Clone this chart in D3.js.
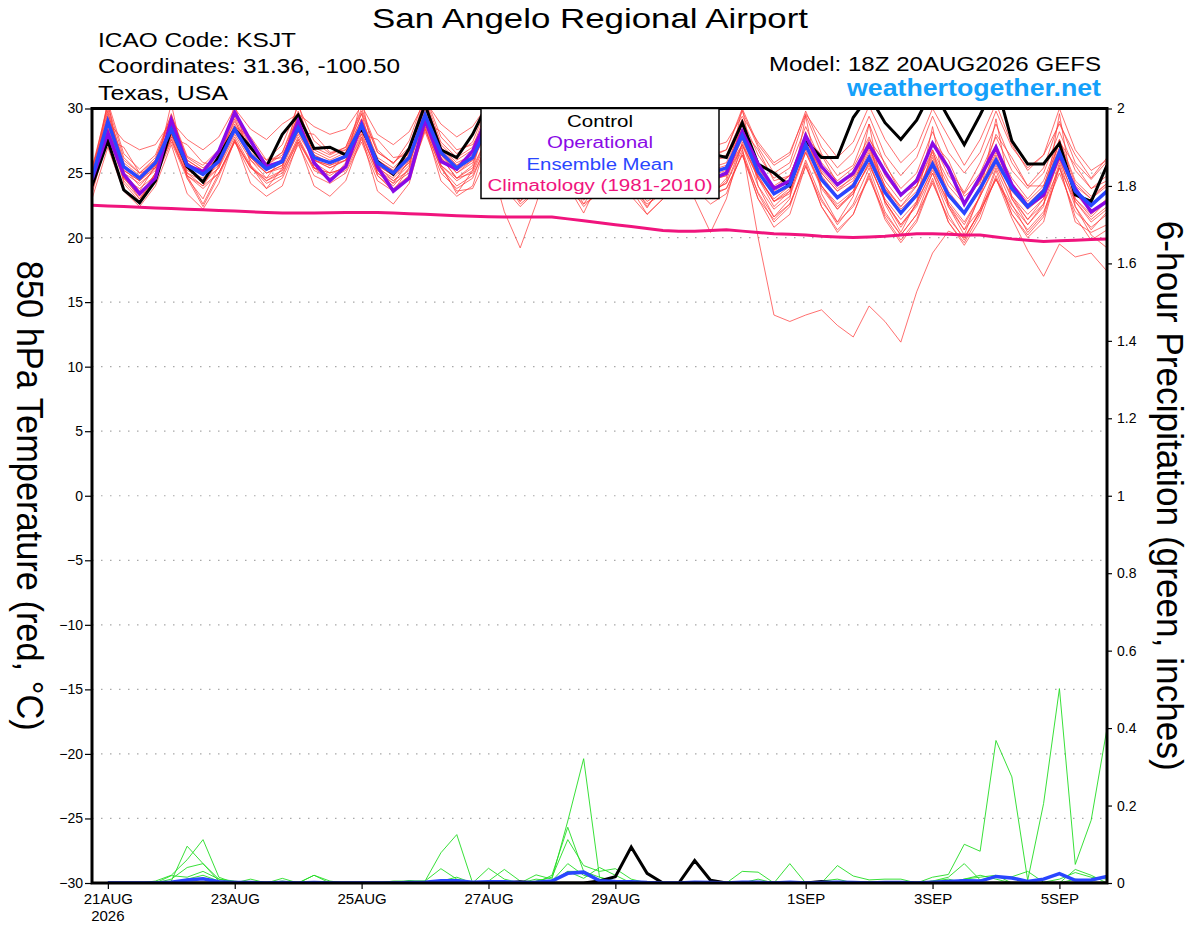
<!DOCTYPE html>
<html lang="en">
<head>
<meta charset="UTF-8">
<title>San Angelo Regional Airport - GEFS</title>
<script src="https://d3js.org/d3.v7.min.js"></script>
<style>
  body { margin: 0; background: #fff; }
  svg { display: block; font-family: "Liberation Sans", Arial, Helvetica, sans-serif; }
</style>
</head>
<body>
<svg id="chart" width="1200" height="927"></svg>
<script>
// 6-hourly steps from 18Z 20AUG2026 to 18Z 5SEP2026
const runStart = Date.UTC(2026, 7, 20, 18);
const stepHours = 6;
const nSteps = 65;

const tickDates = ["2026-08-21", "2026-08-23", "2026-08-25", "2026-08-27", "2026-08-29", "2026-09-01", "2026-09-03", "2026-09-05"];
const tickLabels = ["21AUG", "23AUG", "25AUG", "27AUG", "29AUG", "1SEP", "3SEP", "5SEP"];
const tempTicks = [-30, -25, -20, -15, -10, -5, 0, 5, 10, 15, 20, 25, 30];
const precipTicks = [0, 0.2, 0.4, 0.6, 0.8, 1, 1.2, 1.4, 1.6, 1.8, 2];

// 850 hPa temperature (C)
const control = [24.0,
  27.5, 23.7, 22.7, 24.4,  28.4, 25.5, 24.3, 26.3,  28.4, 27.0, 25.5, 28.0,  29.5, 26.9, 27.0, 26.4,
  28.5, 25.9, 24.9, 26.9,  30.3, 26.8, 26.2, 28.0,  30.5, 27.5, 25.8, 26.5,  29.5, 27.0, 25.5, 26.0,
  29.0, 27.0, 25.5, 26.0,  30.5, 27.5, 26.5, 26.2,  28.9, 25.7, 25.0, 24.0,  27.5, 26.2, 26.2, 29.3,
  31.0, 28.9, 27.6, 29.1,  31.5, 29.3, 27.2, 29.5,  32.0, 27.5, 25.7, 25.7,  27.3, 23.3, 22.8, 25.6];
const operational = [24.5,
  28.1, 24.9, 23.4, 24.6,  29.1, 25.6, 25.1, 26.7,  29.7, 27.5, 25.5, 25.9,  29.0, 25.8, 24.4, 25.5,
  28.8, 25.5, 23.6, 24.6,  29.1, 25.9, 25.3, 26.7,  29.5, 26.5, 25.0, 25.8,  29.0, 26.3, 24.5, 25.4,
  28.5, 26.0, 24.2, 25.0,  28.8, 26.0, 24.5, 25.0,  28.2, 25.7, 23.8, 24.4,  27.9, 25.5, 24.1, 25.0,
  27.2, 25.1, 23.3, 24.4,  27.3, 25.4, 22.6, 24.7,  27.0, 24.1, 22.4, 23.3,  26.4, 23.8, 22.0, 22.8];
const ensMean = [24.6,
  29.0, 25.5, 24.6, 25.8,  28.4, 25.6, 24.9, 25.9,  28.4, 26.4, 25.3, 25.9,  28.5, 26.2, 25.8, 26.3,
  28.7, 25.8, 25.0, 26.2,  29.5, 26.6, 25.4, 26.2,  28.8, 26.0, 24.8, 25.6,  28.3, 26.0, 24.6, 25.4,
  28.0, 25.8, 24.4, 25.0,  28.2, 26.0, 25.0, 25.4,  27.9, 25.1, 23.4, 24.1,  27.2, 24.5, 23.1, 24.0,
  26.2, 23.5, 21.9, 23.3,  25.7, 23.3, 21.9, 23.8,  26.0, 23.8, 22.4, 23.6,  26.6, 23.6, 22.5, 23.6];
const climatology = [22.5,
  22.45, 22.4, 22.35, 22.3,  22.25, 22.2, 22.15, 22.1,  22.05, 22.0, 21.95, 21.9,  21.9, 21.9, 21.92, 21.95,
  21.95, 21.95, 21.9, 21.85,  21.8, 21.75, 21.7, 21.65,  21.62, 21.6, 21.6, 21.6,  21.6, 21.45, 21.3, 21.15,
  21.0, 20.85, 20.7, 20.55,  20.5, 20.5, 20.55, 20.6,  20.5, 20.4, 20.3, 20.25,  20.2, 20.1, 20.05, 20.0,
  20.05, 20.1, 20.2, 20.3,  20.3, 20.25, 20.2, 20.2,  20.05, 19.9, 19.8, 19.7,  19.75, 19.8, 19.85, 19.9];

// ensemble members (thin red)
const mem01 = [25.0,
  30.5, 26.5, 25.3, 26.4,  29.5, 26.3, 25.6, 26.8,  29.8, 27.0, 26.0, 27.2,  30.2, 27.5, 26.5, 27.0,
  30.0, 26.8, 25.7, 27.5,  31.0, 27.8, 26.5, 27.4,  30.5, 27.2, 26.0, 27.0,  29.8, 27.5, 25.8, 26.8,
  30.0, 27.0, 25.6, 26.5,  30.2, 27.4, 26.2, 26.8,  29.8, 27.0, 25.0, 25.8,  29.5, 26.5, 24.8, 25.6,
  28.8, 25.6, 23.8, 25.0,  28.2, 25.4, 23.5, 25.8,  28.8, 25.8, 24.0, 25.4,  29.0, 25.8, 24.5, 25.9];
const mem02 = [24.2,
  28.0, 24.8, 23.0, 25.0,  27.6, 24.8, 22.6, 25.0,  27.5, 25.5, 24.2, 24.8,  27.6, 25.2, 24.6, 25.2,
  27.6, 24.8, 23.8, 24.8,  28.4, 25.4, 24.0, 24.8,  27.4, 24.6, 22.8, 24.0,  26.8, 24.5, 22.9, 24.0,
  26.5, 24.0, 22.6, 23.4,  26.8, 24.4, 23.2, 23.8,  26.4, 23.5, 21.6, 22.6,  25.5, 22.8, 21.2, 22.4,
  24.6, 21.8, 20.2, 21.8,  24.2, 21.5, 20.0, 22.0,  24.5, 22.2, 20.6, 22.0,  25.0, 22.0, 20.8, 21.8];
const mem03 = [24.8,
  29.8, 25.0, 23.6, 25.6,  29.0, 25.0, 24.0, 26.0,  29.2, 26.0, 24.6, 26.2,  29.4, 25.8, 25.0, 26.6,
  29.6, 25.2, 24.2, 26.0,  30.2, 26.2, 24.6, 25.6,  29.6, 25.4, 23.8, 25.2,  29.0, 25.6, 24.0, 25.0,
  28.8, 25.2, 23.5, 24.6,  29.0, 25.8, 24.4, 25.0,  28.8, 24.6, 22.4, 23.6,  28.2, 24.0, 22.2, 23.6,
  27.4, 22.8, 20.8, 22.6,  26.8, 22.6, 20.6, 23.2,  27.2, 23.2, 21.4, 23.0,  27.6, 23.0, 21.6, 22.8];
const mem04 = [24.4,
  28.6, 25.2, 24.4, 25.4,  28.0, 25.2, 24.6, 25.6,  28.0, 26.0, 25.0, 25.4,  28.2, 26.0, 25.4, 26.0,
  28.4, 25.4, 24.6, 25.8,  29.0, 26.2, 25.0, 26.0,  28.4, 25.6, 24.4, 25.4,  27.8, 25.5, 24.2, 25.0,
  27.5, 25.2, 23.6, 24.4,  27.6, 25.5, 24.5, 24.8,  27.0, 20.0, 14.0, 13.5,  14.0, 14.4, 13.2, 12.3,
  14.7, 13.5, 11.9, 15.8,  18.8, 20.5, 20.0, 22.0,  24.5, 22.5, 21.0, 22.6,  25.4, 22.8, 21.4, 22.4];
const mem05 = [24.0,
  28.8, 24.6, 23.2, 25.0,  28.6, 25.4, 24.2, 25.4,  28.6, 26.2, 25.0, 25.6,  28.8, 26.0, 25.4, 26.0,
  29.0, 25.5, 24.4, 25.6,  29.6, 26.4, 25.0, 25.8,  28.6, 25.6, 24.2, 25.0,  28.0, 25.8, 24.2, 25.2,
  27.6, 25.4, 23.8, 24.6,  28.0, 25.6, 24.4, 25.0,  27.6, 24.8, 22.8, 23.4,  26.8, 24.0, 22.4, 23.4,
  25.8, 22.8, 21.0, 22.4,  25.0, 22.4, 20.6, 22.2,  24.6, 21.5, 19.0, 17.0,  19.5, 18.5, 18.8, 17.4];
const mem06 = [23.6,
  28.2, 25.0, 24.2, 25.2,  28.0, 25.0, 24.4, 25.4,  27.8, 25.6, 24.4, 25.0,  27.4, 25.4, 25.0, 25.4,
  28.0, 25.0, 24.2, 25.0,  28.4, 25.4, 23.6, 23.8,  26.4, 22.0, 19.2, 22.6,  26.5, 24.5, 23.0, 24.0,
  26.6, 24.4, 23.0, 23.6,  27.0, 24.6, 23.6, 24.2,  27.2, 24.8, 22.8, 23.8,  27.0, 24.6, 23.0, 24.0,
  26.4, 23.8, 22.4, 23.6,  26.0, 23.4, 22.0, 23.8,  26.2, 23.6, 22.2, 23.2,  26.4, 23.4, 22.0, 23.0];
const mem07 = [24.6,
  29.4, 25.8, 24.8, 26.0,  28.8, 26.0, 25.2, 26.2,  28.8, 26.6, 25.6, 26.4,  29.0, 26.6, 26.0, 26.6,
  29.2, 26.2, 25.4, 26.6,  30.0, 27.0, 25.8, 26.4,  29.2, 26.2, 24.8, 25.4,  28.4, 24.0, 21.9, 24.5,
  28.0, 24.0, 22.3, 24.2,  27.8, 23.0, 20.4, 23.0,  27.4, 24.6, 23.0, 24.0,  27.6, 25.0, 23.6, 24.4,
  26.8, 24.0, 22.2, 23.4,  26.4, 23.6, 22.0, 24.0,  26.6, 24.2, 22.6, 23.8,  27.0, 24.0, 23.0, 24.0];
const mem08 = [24.8,
  29.6, 26.0, 25.0, 26.2,  29.2, 26.2, 25.4, 26.4,  29.0, 26.8, 25.8, 26.6,  29.4, 26.8, 26.2, 26.8,
  29.6, 26.6, 25.8, 26.8,  30.4, 27.2, 26.0, 26.8,  29.8, 26.8, 25.6, 26.4,  29.4, 26.8, 25.4, 26.2,
  29.2, 26.6, 25.2, 26.0,  29.4, 27.0, 26.0, 26.4,  29.2, 26.4, 24.6, 25.4,  28.6, 25.8, 24.4, 25.4,
  27.8, 24.8, 23.2, 24.6,  27.4, 24.8, 23.4, 25.0,  27.8, 25.2, 23.8, 25.0,  28.2, 25.2, 23.8, 24.8];
const mem09 = [24.2,
  28.4, 24.6, 23.4, 24.8,  27.8, 24.8, 23.8, 25.0,  27.6, 25.4, 24.4, 25.2,  27.8, 25.4, 24.8, 25.6,
  28.2, 25.0, 24.0, 25.4,  28.8, 25.6, 24.4, 25.2,  28.0, 25.0, 23.6, 24.6,  27.4, 24.8, 23.4, 24.4,
  27.2, 24.6, 23.0, 24.0,  27.4, 24.8, 23.6, 24.2,  26.8, 23.4, 21.2, 22.4,  26.0, 23.0, 21.0, 22.6,
  25.4, 22.0, 20.2, 21.8,  25.0, 21.8, 19.8, 22.2,  25.4, 22.6, 20.4, 21.8,  25.8, 22.4, 20.2, 19.2];
const mem10 = [25.4,
  30.2, 26.2, 25.0, 26.0,  29.6, 25.8, 25.0, 26.2,  29.4, 26.4, 25.2, 26.0,  29.6, 26.4, 25.8, 26.4,
  29.2, 26.0, 25.2, 26.6,  30.6, 27.0, 25.6, 26.2,  29.4, 26.4, 25.2, 26.0,  28.8, 26.4, 25.0, 25.8,
  28.6, 26.2, 24.8, 25.4,  28.8, 26.4, 25.4, 25.8,  28.4, 25.4, 23.8, 24.8,  27.8, 25.0, 23.6, 24.8,
  27.0, 24.0, 22.4, 24.0,  26.6, 24.0, 22.6, 24.4,  26.8, 24.2, 22.8, 24.0,  27.4, 24.2, 23.0, 24.2];
const mem11 = [24.0,
  28.4, 25.2, 24.4, 25.6,  28.2, 25.6, 24.8, 25.8,  28.2, 26.2, 25.2, 25.8,  28.0, 26.0, 25.6, 26.2,
  28.4, 25.6, 24.8, 26.0,  29.2, 26.4, 25.2, 26.0,  28.6, 25.8, 24.6, 25.4,  28.2, 25.8, 24.4, 25.2,
  27.8, 25.6, 24.2, 24.8,  28.0, 25.8, 24.8, 25.2,  27.2, 24.6, 22.8, 23.6,  26.6, 24.0, 22.6, 23.6,
  25.6, 23.0, 21.4, 22.8,  25.2, 22.8, 21.2, 23.2,  25.6, 23.2, 21.8, 23.0,  26.0, 23.0, 21.8, 22.8];
const mem12 = [25.2,
  30.0, 25.6, 24.4, 25.8,  29.4, 26.0, 25.2, 26.6,  29.6, 26.8, 25.6, 26.6,  29.8, 27.0, 26.4, 27.0,
  29.8, 26.6, 25.8, 27.0,  30.8, 27.4, 26.2, 27.0,  30.2, 27.0, 25.8, 26.6,  29.6, 27.2, 26.0, 26.6,
  29.6, 27.0, 25.8, 26.4,  29.8, 27.4, 26.4, 26.8,  30.0, 27.2, 25.6, 26.4,  29.8, 27.0, 25.4, 26.6,
  29.4, 26.4, 24.8, 26.2,  29.4, 26.6, 25.0, 26.6,  29.8, 27.0, 25.4, 26.4,  30.0, 26.8, 25.2, 26.0];
const mem13 = [23.8,
  28.0, 24.4, 23.0, 24.6,  27.4, 24.6, 22.4, 24.8,  27.4, 25.0, 23.8, 24.6,  27.2, 24.8, 24.2, 25.0,
  27.4, 24.4, 23.6, 24.8,  28.2, 25.0, 23.8, 24.6,  27.6, 24.8, 23.4, 24.4,  27.2, 24.6, 23.2, 24.2,
  27.0, 24.4, 22.8, 23.6,  27.2, 24.6, 23.4, 23.8,  26.4, 23.0, 20.8, 21.8,  25.6, 22.4, 20.4, 21.8,
  24.8, 21.4, 19.6, 21.2,  24.4, 21.2, 19.4, 21.4,  24.8, 21.8, 20.2, 21.6,  25.4, 21.6, 19.8, 20.6];
const mem14 = [25.0,
  29.2, 25.4, 24.0, 25.4,  28.8, 25.8, 25.0, 26.0,  28.6, 26.4, 25.4, 26.0,  28.8, 26.4, 25.8, 26.4,
  28.8, 26.0, 25.2, 26.4,  29.8, 26.8, 25.6, 26.6,  29.0, 26.4, 25.2, 25.8,  28.6, 26.2, 24.8, 25.6,
  28.2, 26.0, 24.6, 25.2,  28.6, 26.2, 25.2, 25.6,  28.2, 25.4, 23.6, 24.4,  27.4, 24.8, 23.2, 24.2,
  26.6, 23.8, 22.0, 23.4,  26.2, 23.4, 22.0, 23.8,  26.4, 23.8, 22.4, 23.6,  26.8, 23.6, 22.4, 23.6];
const mem15 = [24.6,
  29.0, 25.6, 24.6, 25.6,  28.6, 25.8, 24.8, 25.8,  28.4, 26.2, 25.0, 25.6,  28.4, 26.0, 25.6, 26.0,
  28.6, 25.6, 24.8, 25.8,  29.4, 26.2, 24.6, 25.0,  27.8, 24.6, 22.6, 23.6,  27.0, 24.2, 22.4, 23.6,
  26.8, 23.8, 21.8, 23.0,  27.4, 24.6, 23.2, 24.4,  28.0, 25.6, 24.0, 24.8,  27.8, 25.2, 23.8, 24.6,
  27.0, 24.4, 22.8, 24.0,  26.8, 24.4, 22.8, 24.4,  27.0, 24.6, 23.0, 24.4,  27.6, 24.4, 23.2, 24.2];
const mem16 = [23.4,
  27.8, 24.6, 23.8, 24.8,  27.6, 24.8, 24.0, 25.0,  27.4, 25.4, 24.6, 25.2,  27.6, 25.4, 25.0, 25.4,
  27.8, 25.2, 24.4, 25.2,  28.6, 25.6, 24.6, 25.4,  28.0, 25.2, 24.0, 24.8,  27.6, 25.2, 24.0, 24.8,
  27.4, 25.0, 23.8, 24.4,  27.6, 25.2, 24.4, 24.8,  27.2, 24.0, 22.2, 23.2,  26.6, 23.8, 22.2, 23.4,
  25.8, 22.8, 21.0, 22.6,  25.4, 22.6, 21.0, 23.2,  25.8, 23.0, 21.4, 22.6,  26.2, 22.8, 21.2, 22.2];
const mem17 = [25.5,
  29.0, 27.5, 26.8, 27.2,  29.0, 27.6, 26.8, 27.8,  30.0, 28.4, 27.6, 28.8,  29.6, 28.6, 28.0, 28.4,
  30.2, 28.0, 27.2, 28.2,  30.6, 28.8, 27.8, 28.6,  30.4, 28.0, 27.0, 27.6,  29.6, 27.8, 26.6, 27.2,
  29.4, 27.6, 26.4, 27.0,  29.8, 28.2, 27.0, 27.4,  29.4, 27.4, 25.8, 26.6,  29.6, 27.8, 26.2, 27.4,
  30.2, 27.6, 25.8, 27.0,  30.0, 27.8, 25.6, 27.6,  30.4, 27.2, 25.2, 26.4,  28.8, 26.4, 24.6, 26.2];
const mem18 = [23.0,
  27.0, 23.6, 22.4, 24.0,  27.2, 23.4, 22.2, 24.2,  27.6, 24.2, 23.2, 24.0,  27.4, 24.0, 23.2, 24.4,
  27.8, 23.6, 22.6, 24.2,  28.6, 24.4, 23.2, 24.0,  27.8, 23.8, 22.4, 23.6,  27.0, 23.8, 22.6, 23.4,
  26.8, 23.2, 21.8, 23.0,  27.0, 23.8, 22.6, 23.4,  26.6, 23.0, 21.4, 22.6,  25.8, 22.4, 20.6, 21.8,
  25.0, 21.6, 19.8, 21.4,  24.6, 21.2, 19.6, 21.8,  25.2, 21.8, 20.0, 21.2,  25.6, 21.2, 20.4, 21.0];
const mem19 = [24.8,
  27.6, 27.0, 25.0, 25.4,  27.8, 27.2, 25.8, 25.6,  28.6, 27.8, 26.0, 26.2,  28.2, 28.0, 26.6, 26.8,
  28.0, 27.6, 26.2, 26.4,  29.0, 28.2, 26.8, 27.2,  29.2, 27.4, 25.8, 26.0,  28.4, 27.6, 25.6, 26.0,
  28.2, 27.2, 25.4, 25.8,  28.6, 27.8, 26.0, 26.2,  28.4, 26.8, 24.4, 24.8,  27.8, 26.4, 24.2, 24.8,
  27.6, 25.8, 23.4, 24.0,  27.4, 26.0, 23.2, 24.2,  28.0, 26.2, 24.0, 24.0,  27.4, 25.6, 23.8, 24.4];
const mem20 = [24.0,
  30.6, 24.2, 22.8, 25.0,  30.4, 24.6, 23.0, 25.6,  30.4, 25.6, 23.8, 25.4,  30.6, 25.4, 24.4, 25.8,
  30.8, 24.8, 23.6, 25.4,  31.0, 25.6, 23.4, 25.2,  30.2, 24.8, 22.8, 24.6,  29.8, 24.8, 22.6, 24.4,
  29.6, 24.4, 22.4, 24.0,  30.0, 25.0, 23.2, 24.6,  30.0, 24.0, 21.6, 23.0,  29.4, 23.4, 21.2, 23.2,
  28.8, 22.6, 20.4, 22.8,  28.6, 22.4, 20.2, 23.4,  29.2, 23.0, 21.0, 22.4,  29.6, 22.4, 20.6, 22.0];
const members = [mem01, mem02, mem03, mem04, mem05, mem06, mem07, mem08, mem09, mem10,
                 mem11, mem12, mem13, mem14, mem15, mem16, mem17, mem18, mem19, mem20];

// 6-hour precipitation (inches); first step has no accumulation
const pcpControl = [null,
  0, 0, 0, 0,  0, 0, 0, 0,  0, 0, 0, 0,  0, 0, 0, 0,
  0, 0, 0, 0,  0, 0, 0, 0,  0, 0, 0.003, 0,  0, 0, 0, 0.005,
  0.016, 0.093, 0.025, 0,  0, 0.058, 0.007, 0,  0, 0, 0, 0,  0, 0.004, 0, 0,
  0, 0, 0, 0,  0, 0, 0, 0,  0, 0, 0, 0,  0, 0, 0, 0];
const pcpMean = [null,
  0, 0, 0, 0,  0.002, 0.008, 0.011, 0.003,  0.001, 0.001, 0, 0.001,  0, 0.001, 0, 0,
  0, 0, 0, 0.001,  0.002, 0.006, 0.006, 0.002,  0.003, 0.003, 0.001, 0.002,  0.005, 0.025, 0.028, 0.006,
  0.004, 0.003, 0.001, 0,  0, 0.002, 0.001, 0,  0.002, 0.002, 0, 0.002,  0, 0.001, 0.002, 0.001,
  0, 0.001, 0.001, 0,  0.002, 0.004, 0.006, 0.005,  0.017, 0.013, 0.004, 0.01,  0.024, 0.007, 0.008, 0.017];
const pcp01 = [null,
  0, 0, 0, 0.005,  0.02, 0.06, 0.112, 0.015,  0, 0.01, 0, 0.012,  0, 0.02, 0, 0,
  0, 0, 0, 0.005,  0.005, 0.078, 0.125, 0,  0, 0, 0, 0.021,  0.01, 0.16, 0.321, 0.015,
  0.005, 0, 0, 0,  0, 0, 0, 0,  0.03, 0.028, 0, 0.05,  0, 0, 0.045, 0.018,
  0.008, 0.01, 0.01, 0,  0.015, 0.022, 0.1, 0.082,  0.368, 0.274, 0.007, 0.205,  0.502, 0.048, 0.162, 0.399];
const pcp02 = [null,
  0, 0, 0, 0,  0.005, 0.095, 0.05, 0.01,  0.005, 0, 0, 0,  0, 0, 0, 0,
  0, 0, 0.005, 0.005,  0.005, 0.037, 0.01, 0,  0.038, 0.01, 0, 0.005,  0.015, 0.112, 0.045, 0.03,
  0.037, 0.01, 0, 0,  0, 0, 0, 0,  0, 0.01, 0, 0,  0, 0, 0, 0,
  0, 0, 0, 0,  0.005, 0.015, 0.05, 0.008,  0.015, 0.016, 0.03, 0.002,  0.01, 0.027, 0.015, 0.01];
const pcp03 = [null,
  0, 0, 0, 0,  0.019, 0.015, 0.03, 0.01,  0, 0, 0, 0,  0, 0, 0, 0,
  0, 0, 0, 0,  0, 0.005, 0.015, 0,  0.005, 0.035, 0.005, 0,  0.02, 0.144, 0.03, 0.005,
  0, 0, 0, 0,  0, 0, 0, 0,  0, 0, 0, 0,  0, 0, 0, 0,
  0, 0, 0, 0,  0, 0, 0, 0,  0, 0, 0, 0,  0, 0.035, 0.02, 0];
const pcp04 = [null,
  0, 0, 0, 0,  0.01, 0.04, 0.05, 0.005,  0, 0, 0, 0.005,  0, 0, 0, 0,
  0, 0, 0, 0,  0, 0, 0, 0,  0, 0, 0, 0,  0.005, 0.05, 0.02, 0.01,
  0, 0, 0, 0,  0, 0, 0, 0,  0, 0, 0, 0,  0, 0.005, 0.01, 0,
  0, 0, 0, 0,  0, 0, 0.01, 0.02,  0.01, 0, 0, 0,  0, 0.01, 0.005, 0.015];
const pcp05 = [null,
  0, 0, 0, 0,  0, 0.01, 0.02, 0.005,  0, 0, 0, 0,  0, 0, 0, 0,
  0, 0, 0, 0,  0, 0, 0, 0,  0, 0, 0, 0.01,  0.005, 0.03, 0.03, 0.015,
  0, 0, 0, 0,  0, 0, 0, 0,  0, 0, 0, 0,  0, 0, 0, 0,
  0, 0, 0, 0,  0.005, 0.01, 0, 0,  0, 0, 0, 0,  0, 0, 0, 0];
const pcp06 = [null,
  0, 0, 0, 0,  0, 0, 0, 0,  0, 0, 0, 0,  0, 0.02, 0.005, 0,
  0, 0, 0, 0.006,  0, 0, 0, 0,  0, 0, 0, 0,  0, 0.03, 0.012, 0.04,
  0.02, 0, 0, 0,  0, 0, 0, 0,  0, 0, 0, 0,  0, 0, 0, 0,
  0, 0, 0, 0,  0, 0, 0.01, 0.015,  0.02, 0, 0, 0,  0, 0, 0, 0];
const pcpMembers = [pcp01, pcp02, pcp03, pcp04, pcp05, pcp06];

// ---- drawing ----
const svg = d3.select("#chart");
const fontFam = '"Liberation Sans", Arial, Helvetica, sans-serif';
const plotL = 92, plotR = 1107, plotT = 108.5, plotB = 883;

const times = d3.range(nSteps).map(i => new Date(runStart + i * stepHours * 3600e3));
const parseDay = d3.utcParse("%Y-%m-%d");
const tickTimes = tickDates.map(parseDay);

const x = d3.scaleUtc().domain(d3.extent(times)).range([plotL, plotR]);
const yT = d3.scaleLinear().domain([-30, 30]).range([plotB, plotT]);
const yP = d3.scaleLinear().domain([0, 2]).range([plotB, plotT]);

svg.append("defs").append("clipPath").attr("id", "plotclip")
  .append("rect").attr("x", plotL).attr("y", plotT)
  .attr("width", plotR - plotL).attr("height", plotB - plotT);

// dotted horizontal grid
svg.append("g").selectAll("line")
  .data(tempTicks.filter(v => v > -30 && v < 30))
  .join("line")
  .attr("x1", plotL).attr("x2", plotR)
  .attr("y1", d => yT(d)).attr("y2", d => yT(d))
  .attr("stroke", "#a8a8a8").attr("stroke-width", 1.2)
  .attr("stroke-dasharray", "1.5,7.5");

const plot = svg.append("g").attr("clip-path", "url(#plotclip)");

const lineT = d3.line().defined(d => d != null).x((d, i) => x(times[i])).y(d => yT(d));
const lineP = d3.line().defined(d => d != null).x((d, i) => x(times[i])).y(d => yP(d));

// precipitation members
plot.append("g").selectAll("path").data(pcpMembers).join("path")
  .attr("d", lineP).attr("fill", "none")
  .attr("stroke", "#22dd22").attr("stroke-width", 0.9);

// temperature members
plot.append("g").selectAll("path").data(members).join("path")
  .attr("d", lineT).attr("fill", "none")
  .attr("stroke", "#ff3838").attr("stroke-width", 0.9).attr("stroke-opacity", 0.8);

plot.append("path").datum(pcpControl).attr("d", lineP)
  .attr("fill", "none").attr("stroke", "#000").attr("stroke-width", 3);
plot.append("path").datum(pcpMean).attr("d", lineP)
  .attr("fill", "none").attr("stroke", "#2a46ff").attr("stroke-width", 3.5);

plot.append("path").datum(control).attr("d", lineT)
  .attr("fill", "none").attr("stroke", "#000").attr("stroke-width", 3);
plot.append("path").datum(operational).attr("d", lineT)
  .attr("fill", "none").attr("stroke", "#8a0ae6").attr("stroke-width", 3.5);
plot.append("path").datum(ensMean).attr("d", lineT)
  .attr("fill", "none").attr("stroke", "#2a46ff").attr("stroke-width", 3.5);
plot.append("path").datum(climatology).attr("d", lineT)
  .attr("fill", "none").attr("stroke", "#f0147d").attr("stroke-width", 3);

// axes
const styleAxis = g => {
  g.select(".domain").remove();
  g.attr("font-family", fontFam).attr("font-size", 14);
  g.selectAll("text").attr("fill", "#000");
  g.selectAll("line").attr("stroke", "#000").attr("stroke-width", 1.2);
};

svg.append("g").attr("transform", `translate(0,${plotB})`)
  .call(d3.axisBottom(x).tickValues(tickTimes).tickFormat((d, i) => tickLabels[i]).tickSize(6).tickPadding(4))
  .call(styleAxis)
  .call(g => g.attr("font-size", 15));

svg.append("text").attr("x", x(tickTimes[0])).attr("y", 921)
  .attr("text-anchor", "middle").attr("font-size", 15).attr("font-family", fontFam)
  .text("2026");

svg.append("g").attr("transform", `translate(${plotL},0)`)
  .call(d3.axisLeft(yT).tickValues(tempTicks).tickSize(7).tickPadding(2))
  .call(styleAxis);

svg.append("g").attr("transform", `translate(${plotR},0)`)
  .call(d3.axisRight(yP).tickValues(precipTicks).tickFormat(d3.format("~g")).tickSize(5).tickPadding(5))
  .call(styleAxis);

// frame
svg.append("rect").attr("x", plotL).attr("y", plotT)
  .attr("width", plotR - plotL).attr("height", plotB - plotT)
  .attr("fill", "none").attr("stroke", "#000").attr("stroke-width", 3);

// legend
const legendItems = [
  {label: "Control", color: "#000", len: 66},
  {label: "Operational", color: "#8a0ae6", len: 106},
  {label: "Ensemble Mean", color: "#2a46ff", len: 147},
  {label: "Climatology (1981-2010)", color: "#f0147d", len: 225}
];
svg.append("rect").attr("x", 481).attr("y", plotT).attr("width", 238).attr("height", 90)
  .attr("fill", "#fff").attr("stroke", "#000").attr("stroke-width", 1.5);
svg.append("g").selectAll("text").data(legendItems).join("text")
  .attr("x", 600).attr("y", (d, i) => 127 + i * 21.3)
  .attr("text-anchor", "middle").attr("font-family", fontFam).attr("font-size", 16)
  .attr("textLength", d => d.len).attr("lengthAdjust", "spacingAndGlyphs")
  .attr("fill", d => d.color).text(d => d.label);

// header
const addText = (str, xx, yy, size, anchor, len, opts = {}) => {
  const t = svg.append("text").attr("x", xx).attr("y", yy)
    .attr("font-family", fontFam).attr("font-size", size)
    .attr("text-anchor", anchor).attr("fill", opts.fill || "#000")
    .attr("font-weight", opts.weight || "normal").text(str);
  if (len) t.attr("textLength", len).attr("lengthAdjust", "spacingAndGlyphs");
  if (opts.rotate) t.attr("transform", `rotate(${opts.rotate},${xx},${yy})`);
  return t;
};
addText("San Angelo Regional Airport", 590, 28, 28, "middle", 436);
addText("ICAO Code: KSJT", 98, 47, 20, "start", 198);
addText("Coordinates: 31.36, -100.50", 98, 73, 20, "start", 302);
addText("Texas, USA", 98, 100, 20, "start", 130);
addText("Model: 18Z 20AUG2026 GEFS", 1101, 71, 21, "end", 332);
addText("weathertogether.net", 1101, 96, 23, "end", 254, {fill: "#14a0fa", weight: "bold"});

// axis titles
const midY = (plotT + plotB) / 2;
addText("850 hPa Temperature (red, \u00B0C)", 17, midY, 36, "middle", 470, {rotate: 90});
addText("6-hour Precipitation (green, inches)", 1157, midY, 36, "middle", 550, {rotate: 90});
</script>
</body>
</html>
